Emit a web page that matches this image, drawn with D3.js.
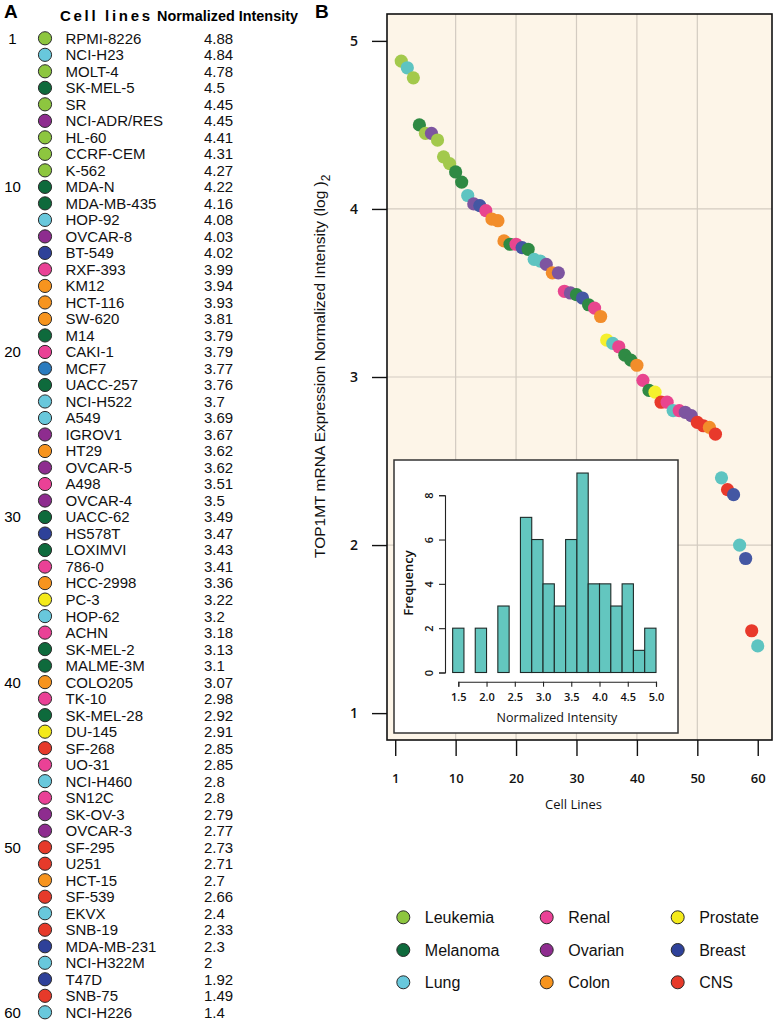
<!DOCTYPE html>
<html>
<head>
<meta charset="utf-8">
<script src="https://cdn.jsdelivr.net/npm/d3@7"></script>
<style>
  html, body { margin: 0; padding: 0; background: #fff; }
  svg { display: block; }
</style>
</head>
<body>
<svg id="chart" width="777" height="1023"></svg>
<script>
// ---------------- DATA ----------------
const cellLines = ["RPMI-8226","NCI-H23","MOLT-4","SK-MEL-5","SR","NCI-ADR/RES","HL-60","CCRF-CEM","K-562","MDA-N",
  "MDA-MB-435","HOP-92","OVCAR-8","BT-549","RXF-393","KM12","HCT-116","SW-620","M14","CAKI-1",
  "MCF7","UACC-257","NCI-H522","A549","IGROV1","HT29","OVCAR-5","A498","OVCAR-4","UACC-62",
  "HS578T","LOXIMVI","786-0","HCC-2998","PC-3","HOP-62","ACHN","SK-MEL-2","MALME-3M","COLO205",
  "TK-10","SK-MEL-28","DU-145","SF-268","UO-31","NCI-H460","SN12C","SK-OV-3","OVCAR-3","SF-295",
  "U251","HCT-15","SF-539","EKVX","SNB-19","MDA-MB-231","NCI-H322M","T47D","SNB-75","NCI-H226"];
const intensityLabels = ["4.88","4.84","4.78","4.5","4.45","4.45","4.41","4.31","4.27","4.22",
  "4.16","4.08","4.03","4.02","3.99","3.94","3.93","3.81","3.79","3.79",
  "3.77","3.76","3.7","3.69","3.67","3.62","3.62","3.51","3.5","3.49",
  "3.47","3.43","3.41","3.36","3.22","3.2","3.18","3.13","3.1","3.07",
  "2.98","2.92","2.91","2.85","2.85","2.8","2.8","2.79","2.77","2.73",
  "2.71","2.7","2.66","2.4","2.33","2.3","2","1.92","1.49","1.4"];
const intensities = intensityLabels.map(Number);
const tissues = ["Leukemia","Lung","Leukemia","Melanoma","Leukemia","Ovarian","Leukemia","Leukemia","Leukemia","Melanoma",
  "Melanoma","Lung","Ovarian","Breast","Renal","Colon","Colon","Colon","Melanoma","Renal",
  "Breast","Melanoma","Lung","Lung","Ovarian","Colon","Ovarian","Renal","Ovarian","Melanoma",
  "Breast","Melanoma","Renal","Colon","Prostate","Lung","Renal","Melanoma","Melanoma","Colon",
  "Renal","Melanoma","Prostate","CNS","Renal","Lung","Renal","Ovarian","Ovarian","CNS",
  "CNS","Colon","CNS","Lung","CNS","Breast","Lung","Breast","CNS","Lung"];

const legendCategories = ["Leukemia","Melanoma","Lung","Renal","Ovarian","Colon","Prostate","Breast","CNS"];
// swatch colours (table + legend)
const swatchColors = ["#8dc63f","#0e6a3c","#68c8dc","#ea4196","#8e2c8f","#f7941e","#f4ea1a","#2e4199","#e63a2a"];
// scatter colours (panel B)
const dotColors = ["#a3c94c","#2f8a44","#5ec4c1","#e8458f","#7d55a0","#f28d2b","#f5ef2e","#4457a3","#e8392b"];
const swatchOverride = { "MCF7": "#2a7bbf" };

const yTicks = [1,2,3,4,5];
const yGrid = [2,3,4];
const xTickValues = [0,10,20,30,40,50,60];
const xTickLabels = ["1","10","20","30","40","50","60"];
const xGrid = [10,20,30,40,50];

// inset histogram (bin width 0.2 from 1.4 to 5.0), frequencies
const histBinStarts = [1.4,1.6,1.8,2.0,2.2,2.4,2.6,2.8,3.0,3.2,3.4,3.6,3.8,4.0,4.2,4.4,4.6,4.8];
const histFreq =      [2,  0,  2,  0,  3,  0,  7,  6,  4,  3,  6,  9,  4,  4,  3,  4,  1,  2];
const histXTicks = [1.5,2.0,2.5,3.0,3.5,4.0,4.5,5.0];
const histYTicks = [0,2,4,6,8];

// ---------------- DRAW ----------------
(function () {
const svg = d3.select("#chart");
const swatch = d3.scaleOrdinal().domain(legendCategories).range(swatchColors);
const dotColor = d3.scaleOrdinal().domain(legendCategories).range(dotColors);
const arial = "'Liberation Sans', Arial, Helvetica, sans-serif";
const myriad = "'Open Sans', 'Noto Sans', sans-serif";

// ===== Panel A: table =====
const rowY = d3.scaleLinear().domain([0, 59]).range([38.3, 1012.3]);
svg.append("text").attr("x", 4).attr("y", 18).text("A")
  .attr("font-family", arial).attr("font-weight", "bold").attr("font-size", 19);
svg.append("text").attr("x", 60).attr("y", 21).text("Cell lines")
  .attr("textLength", 90).attr("lengthAdjust", "spacing")
  .attr("font-family", arial).attr("font-weight", "bold").attr("font-size", 15);
svg.append("text").attr("x", 157).attr("y", 21).text("Normalized Intensity")
  .attr("textLength", 141).attr("lengthAdjust", "spacingAndGlyphs")
  .attr("font-family", arial).attr("font-weight", "bold").attr("font-size", 15);

const rows = svg.append("g").selectAll("g").data(cellLines).join("g")
  .attr("transform", (d, i) => `translate(0,${rowY(i)})`);
rows.filter((d, i) => i === 0 || (i + 1) % 10 === 0).append("text")
  .attr("x", 12.5).attr("y", 5.4).attr("text-anchor", "middle")
  .attr("font-family", arial).attr("font-size", 15)
  .text(d => cellLines.indexOf(d) + 1);
rows.append("circle").attr("cx", 45).attr("cy", 0).attr("r", 6.6)
  .attr("fill", (d, i) => swatchOverride[d] || swatch(tissues[i]))
  .attr("stroke", "#2a2a2a").attr("stroke-width", 1);
rows.append("text").attr("x", 65.5).attr("y", 5.4).text(d => d)
  .attr("font-family", arial).attr("font-size", 15).attr("fill", "#111");
rows.append("text").attr("x", 204).attr("y", 5.4).text((d, i) => intensityLabels[i])
  .attr("font-family", arial).attr("font-size", 15).attr("fill", "#111");

// ===== Panel B: scatter =====
const pL = 387, pR = 772, pT = 14, pB = 740;
const n = intensities.length;
const pad = 0.04 * (n - 1);
const x = d3.scaleLinear().domain([1 - pad, n + pad]).range([pL, pR]);
const y = d3.scaleLinear().domain([1 - 0.16, 5 + 0.16]).range([pB, pT]);

svg.append("text").attr("x", 315).attr("y", 18).text("B")
  .attr("font-family", arial).attr("font-weight", "bold").attr("font-size", 19);

svg.append("rect").attr("x", pL).attr("y", pT).attr("width", pR - pL).attr("height", pB - pT)
  .attr("fill", "#fdf5e8");
const grid = svg.append("g").attr("stroke", "#d3cbc1").attr("stroke-width", 1.2);
grid.selectAll("line.v").data(xGrid).join("line").attr("class", "v")
  .attr("x1", d => x(d)).attr("x2", d => x(d)).attr("y1", pT).attr("y2", pB);
grid.selectAll("line.h").data(yGrid).join("line").attr("class", "h")
  .attr("y1", d => y(d)).attr("y2", d => y(d)).attr("x1", pL).attr("x2", pR);

svg.append("g").selectAll("circle").data(intensities).join("circle")
  .attr("cx", (d, i) => x(i + 1)).attr("cy", d => y(d)).attr("r", 6.6)
  .attr("fill", (d, i) => dotColor(tissues[i]));

// Y axis
const yAxis = svg.append("g").attr("transform", `translate(${pL},0)`)
  .call(d3.axisLeft(y).tickValues(yTicks).tickSize(15).tickPadding(0).tickFormat(d3.format("d")));
yAxis.select(".domain").remove();
yAxis.selectAll(".tick line").attr("stroke", "#111").attr("stroke-width", 1.4);
yAxis.selectAll(".tick text").attr("x", -33).attr("text-anchor", "middle")
  .attr("font-family", myriad).attr("font-weight", 600).attr("font-size", 14).attr("fill", "#111");

// X axis
const xAxis = svg.append("g").attr("transform", `translate(0,${pB})`)
  .call(d3.axisBottom(x).tickValues(xTickValues).tickSize(16).tickPadding(0)
    .tickFormat((d, i) => xTickLabels[i]));
xAxis.select(".domain").remove();
xAxis.selectAll(".tick line").attr("stroke", "#111").attr("stroke-width", 1.4);
xAxis.selectAll(".tick text").attr("y", 43).attr("dy", 0)
  .attr("font-family", myriad).attr("font-weight", 600).attr("font-size", 13).attr("fill", "#111");

svg.append("rect").attr("x", pL).attr("y", pT).attr("width", pR - pL).attr("height", pB - pT)
  .attr("fill", "none").attr("stroke", "#111").attr("stroke-width", 1.6);

svg.append("text").attr("x", (pL + pR) / 2 - 6).attr("y", 809).attr("text-anchor", "middle")
  .attr("font-family", myriad).attr("font-size", 13).attr("fill", "#111").text("Cell Lines");

const yTitle = svg.append("text").attr("transform", "translate(324.5,558) rotate(-90)")
  .attr("font-family", arial).attr("font-size", 15.5).attr("fill", "#111");
yTitle.append("tspan").text("TOP1MT mRNA Expression Normalized Intensity (log )");
yTitle.append("tspan").attr("dy", 5).attr("font-size", 12).text("2");

// ===== Inset histogram =====
const ix0 = 394, iy0 = 460, ix1 = 678, iy1 = 733;
svg.append("rect").attr("x", ix0).attr("y", iy0).attr("width", ix1 - ix0).attr("height", iy1 - iy0)
  .attr("fill", "#fff").attr("stroke", "#333").attr("stroke-width", 1.5);
const hx = d3.scaleLinear().domain([1.5, 5.0]).range([458.3, 656]);
const hy = d3.scaleLinear().domain([0, 8]).range([672.5, 495.2]);
const binW = 0.2;
svg.append("g").selectAll("rect").data(histFreq).join("rect")
  .attr("x", (d, i) => hx(histBinStarts[i])).attr("width", (d, i) => hx(histBinStarts[i] + binW) - hx(histBinStarts[i]))
  .attr("y", d => hy(d)).attr("height", d => hy(0) - hy(d))
  .attr("fill", "#63c6bf").attr("stroke", "#1e2a28").attr("stroke-width", 1.1);

const hyAxis = svg.append("g").attr("transform", "translate(445,0)")
  .call(d3.axisLeft(hy).tickValues(histYTicks).tickSize(6).tickPadding(0).tickFormat(d3.format("d")));
hyAxis.select(".domain").attr("stroke", "#222").attr("stroke-width", 1.1);
hyAxis.selectAll(".tick line").attr("stroke", "#222").attr("stroke-width", 1.1);
hyAxis.selectAll(".tick text")
  .attr("x", 0).attr("dy", 0)
  .attr("transform", "translate(-12,0) rotate(-90)")
  .attr("text-anchor", "middle")
  .attr("font-family", myriad).attr("font-weight", 600).attr("font-size", 11).attr("fill", "#111");

const hxAxis = svg.append("g").attr("transform", "translate(0,681.7)")
  .call(d3.axisBottom(hx).tickValues(histXTicks).tickSize(5).tickPadding(0).tickFormat(d3.format(".1f")));
hxAxis.select(".domain").attr("stroke", "#222").attr("stroke-width", 1.1);
hxAxis.selectAll(".tick line").attr("stroke", "#222").attr("stroke-width", 1.1);
hxAxis.selectAll(".tick text").attr("y", 19).attr("dy", 0)
  .attr("font-family", myriad).attr("font-weight", 600).attr("font-size", 11).attr("fill", "#111");

svg.append("text").attr("transform", "translate(413,583) rotate(-90)").attr("text-anchor", "middle")
  .attr("font-family", myriad).attr("font-weight", 600).attr("font-size", 13).attr("fill", "#111").text("Frequency");
svg.append("text").attr("x", 557).attr("y", 722).attr("text-anchor", "middle")
  .attr("font-family", myriad).attr("font-size", 12.5).attr("fill", "#111").text("Normalized Intensity");

// ===== Legend =====
const legCols = [403.3, 546.7, 677.7];
const legRows = [917.3, 950, 982.3];
const leg = svg.append("g").selectAll("g").data(legendCategories).join("g")
  .attr("transform", (d, i) => `translate(${legCols[Math.floor(i / 3)]},${legRows[i % 3]})`);
leg.append("circle").attr("r", 6.5).attr("fill", d => swatch(d))
  .attr("stroke", "#2a2a2a").attr("stroke-width", 1);
leg.append("text").attr("x", 21.5).attr("y", 5.6).text(d => d)
  .attr("font-family", arial).attr("font-size", 16).attr("fill", "#111");
})();
</script>
</body>
</html>
